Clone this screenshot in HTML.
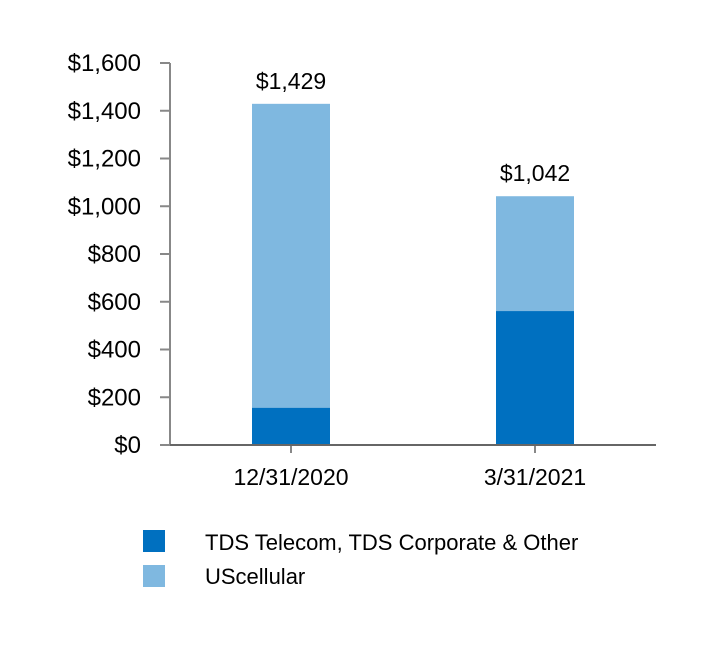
<!DOCTYPE html>
<html><head><meta charset="utf-8"><style>
body{margin:0;background:#fff;}
svg text{font-family:"Liberation Sans",Arial,sans-serif;fill:#000;}
</style></head><body>
<svg width="720" height="666" viewBox="0 0 720 666">
<g id="g"></g>
</svg>
<script>
const categories=["12/31/2020","3/31/2021"];
const tdsValues=[156,561];
const ucValues=[1273,481];
const totalLabels=["$1,429","$1,042"];
const yTicks=[0,200,400,600,800,1000,1200,1400,1600];
const yTickLabels=["$0","$200","$400","$600","$800","$1,000","$1,200","$1,400","$1,600"];
const g=document.getElementById('g');
const NS="http://www.w3.org/2000/svg";
const y0=445,y1=63,vmax=1600;
function y(v){return y0-(v/vmax)*(y0-y1);}
const xCenters=[291,535],bw=78;
function x(i){return xCenters[i];}
function mk(t,a,txt){const e=document.createElementNS(NS,t);for(const k in a)e.setAttribute(k,a[k]);if(txt!==undefined)e.textContent=txt;g.appendChild(e);return e;}
let e;
e=mk('line',{x1:170,y1:y1,x2:170,y2:y0,stroke:'#888','stroke-width':2});


yTicks.forEach((v,i)=>{
 e=mk('line',{x1:160,y1:y(v),x2:170,y2:y(v),stroke:'#888','stroke-width':2});
 
 
 e=mk('text',{x:141,y:y(v)+8,'text-anchor':'end','font-size':24},yTickLabels[i]);
 
 
});
categories.forEach((c,i)=>{
 const cx=x(i);
 e=mk('rect',{x:cx-bw/2,y:y(tdsValues[i]+ucValues[i]),width:bw,height:y(tdsValues[i])-y(tdsValues[i]+ucValues[i]),fill:'#7FB8E0'});
 
 
 e=mk('rect',{x:cx-bw/2,y:y(tdsValues[i]),width:bw,height:y0-y(tdsValues[i]),fill:'#0070C0'});
 
 
 e=mk('text',{x:cx,y:y(tdsValues[i]+ucValues[i])-15,'text-anchor':'middle','font-size':23},totalLabels[i]);
 
 
 e=mk('line',{x1:cx,y1:y0,x2:cx,y2:y0+8,stroke:'#888','stroke-width':2});
 
 
 e=mk('text',{x:cx,y:485,'text-anchor':'middle','font-size':23},c);
 
 
});
e=mk('line',{x1:170,y1:y0,x2:656,y2:y0,stroke:'#666','stroke-width':2});


e=mk('rect',{x:143,y:530,width:22,height:22,fill:'#0070C0'});


e=mk('text',{x:205,y:550,'font-size':22},'TDS Telecom, TDS Corporate & Other');


e=mk('rect',{x:143,y:565,width:22,height:22,fill:'#7FB8E0'});


e=mk('text',{x:205,y:584,'font-size':22},'UScellular');


</script>
</body></html>
